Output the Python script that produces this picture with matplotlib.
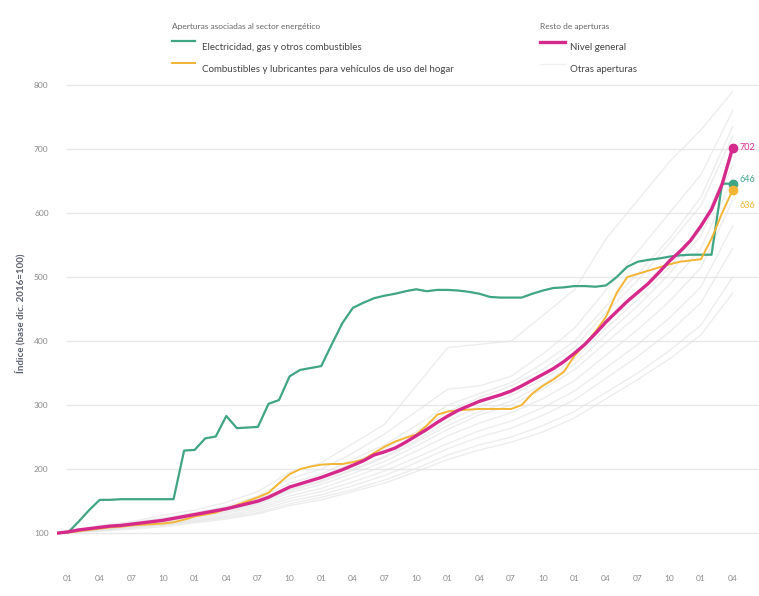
import matplotlib.pyplot as plt
from matplotlib.lines import Line2D

plt.rcParams['font.family'] = ['Lato', 'DejaVu Sans']

# Meses desde dic. 2016 (0) hasta abr. 2022 (64)
meses = list(range(65))

electricidad = [100, 101, 118, 136, 152, 152, 153, 153, 153, 153, 153, 153,
                229, 230, 248, 251, 283, 264, 265, 266, 302, 308, 345, 355,
                358, 361, 395, 428, 452, 460, 467, 471, 474, 478, 481, 478,
                480, 480, 479, 477, 474, 469, 468, 468, 468, 474, 479, 483,
                484, 486, 486, 485, 487, 500, 516, 524, 527, 529, 532, 534,
                535, 535, 535, 646, 646]

combustibles = [100, 101, 103, 105, 107, 109, 110, 112, 113, 114, 115, 117,
                121, 126, 129, 132, 138, 144, 150, 156, 163, 178, 192, 200,
                204, 207, 208, 208, 211, 215, 225, 235, 243, 249, 254, 268,
                285, 290, 292, 293, 294, 294, 294, 294, 300, 318, 330, 340,
                352, 377, 395, 415, 438, 475, 500, 505, 510, 515, 520, 524,
                526, 528, 560, 600, 636]

nivel_general = [100, 102, 105, 107, 109, 111, 112, 114, 116, 118, 120, 123,
                 126, 129, 132, 135, 138, 142, 146, 150, 156, 164, 172, 177,
                 182, 187, 193, 199, 206, 213, 222, 227, 233, 242, 252, 262,
                 273, 283, 292, 299, 306, 311, 316, 322, 330, 339, 348, 357,
                 368, 381, 395, 412, 430, 446, 462, 476, 490, 507, 525, 540,
                 557, 580, 606, 645, 702]

# Otras aperturas, leídas trimestralmente
meses_q = [0, 1, 4, 7, 10, 13, 16, 19, 22, 25, 28, 31, 34, 37, 40, 43, 46, 49, 52, 55, 58, 61, 64]
otras = [
    [100, 101, 112, 118, 128, 136, 148, 165, 195, 210, 240, 270, 330, 390, 395, 400, 440, 480, 560, 620, 680, 730, 790],
    [100, 102, 110, 116, 124, 132, 142, 158, 185, 200, 225, 255, 290, 325, 330, 345, 380, 420, 480, 540, 600, 660, 760],
    [100, 102, 109, 115, 122, 131, 140, 153, 178, 192, 215, 238, 268, 300, 318, 335, 365, 400, 455, 505, 560, 625, 735],
    [100, 101, 108, 113, 119, 127, 136, 147, 168, 182, 200, 220, 245, 275, 298, 315, 340, 372, 420, 465, 515, 575, 690],
    [100, 102, 107, 112, 118, 125, 133, 144, 163, 176, 193, 212, 236, 262, 285, 300, 325, 355, 398, 440, 488, 545, 655],
    [100, 101, 106, 111, 116, 123, 131, 141, 158, 170, 187, 205, 228, 252, 272, 288, 310, 338, 378, 418, 462, 515, 620],
    [100, 101, 105, 110, 114, 121, 128, 138, 154, 165, 180, 197, 218, 240, 260, 275, 296, 322, 358, 395, 436, 485, 580],
    [100, 101, 105, 109, 113, 119, 126, 135, 150, 160, 174, 190, 210, 232, 250, 264, 284, 308, 342, 376, 414, 460, 545],
    [100, 100, 104, 108, 112, 118, 124, 132, 146, 156, 168, 183, 201, 222, 238, 250, 268, 290, 320, 350, 385, 425, 500],
    [100, 101, 103, 106, 110, 116, 122, 130, 143, 152, 165, 178, 196, 215, 230, 242, 258, 280, 310, 340, 372, 410, 475],
    [100, 102, 108, 114, 121, 130, 140, 152, 172, 188, 210, 232, 258, 290, 312, 330, 356, 390, 445, 495, 552, 612, 720],
    [100, 101, 107, 112, 118, 126, 135, 146, 166, 180, 198, 218, 242, 268, 290, 306, 332, 364, 410, 455, 505, 565, 675],
]

tick_meses = list(range(1, 65, 3))
tick_labels = ['01', '04', '07', '10'] * 5 + ['01', '04']
anios = ['2017', '2018', '2019', '2020', '2021', '2022']

verde = '#3fa584'
amarillo = '#f2b535'
magenta = '#d52a8c'
gris_txt = '#8a8a8a'

W, H = 759, 596
fig = plt.figure(figsize=(W / 100, H / 100), dpi=100)
ax = fig.add_axes([57 / W, 36 / H, 702 / W, 480 / H])
ax.set_xlim(-0.05, 66.5)
ax.set_ylim(58, 808)

for v in range(100, 801, 100):
    ax.axhline(v, xmin=0.014, color='#e8e8e8', lw=1, zorder=0)

for serie in otras:
    ax.plot(meses_q, serie, color='#e2e2e2', lw=1, alpha=0.6, zorder=1)

ax.plot(meses, electricidad, color=verde, lw=1.6, zorder=3)
ax.plot(meses, combustibles, color=amarillo, lw=1.4, zorder=3)
ax.plot(meses, nivel_general, color=magenta, lw=2.4, zorder=4)

finales = [(nivel_general, magenta, (5, 0)), (electricidad, verde, (5, 3)),
           (combustibles, amarillo, (5, -11))]
for serie, col, off in finales:
    ax.plot(meses[-1], serie[-1], 'o', color=col, ms=6, zorder=5, clip_on=False)
    ax.annotate(str(serie[-1]), (meses[-1], serie[-1]), xytext=off,
                textcoords='offset points', color=col, fontsize=6.5,
                va='center', ha='left', annotation_clip=False)

ax.set_yticks(range(100, 801, 100))
ax.set_xticks(tick_meses)
ax.set_xticklabels(tick_labels)
ax.tick_params(axis='both', length=0, labelsize=6, labelcolor=gris_txt)
ax.tick_params(axis='y', pad=6)
ax.tick_params(axis='x', pad=11)
for s in ax.spines.values():
    s.set_visible(False)

# años bajo cada enero (en el original quedan cortados en el borde)
for i, a in enumerate(anios):
    ax.text(tick_meses[i * 4], -0.085, a, transform=ax.get_xaxis_transform(),
            ha='center', va='top', fontsize=6, color=gris_txt)

fig.text(20 / W, 1 - 313 / H, 'Índice (base dic. 2016=100)', rotation=90,
         ha='center', va='center', fontsize=7, fontweight='bold', color='#5a5f6e')

# Leyenda
def fy(y):
    return 1 - y / H

fig.text(172 / W, fy(27), 'Aperturas asociadas al sector energético', fontsize=6,
         color='#666666', va='center')
fig.text(540 / W, fy(27), 'Resto de aperturas', fontsize=6, color='#666666', va='center')
muestras = [(172, 195, 41, verde, 1.6), (172, 195, 63, amarillo, 1.4),
            (540, 565, 42, magenta, 2.4), (540, 565, 64, '#f0f0f0', 1.0)]
for x0, x1, y, col, lw in muestras:
    fig.add_artist(Line2D([x0 / W, x1 / W], [fy(y), fy(y)], color=col, lw=lw))
fig.text(202 / W, fy(47), 'Electricidad, gas y otros combustibles', fontsize=7,
         color='#444444', va='center')
fig.text(202 / W, fy(70), 'Combustibles y lubricantes para vehículos de uso del hogar',
         fontsize=7, color='#444444', va='center')
fig.text(570 / W, fy(47), 'Nivel general', fontsize=7, color='#444444', va='center')
fig.text(570 / W, fy(70), 'Otras aperturas', fontsize=7, color='#444444', va='center')

fig.savefig('out.png', dpi=100)
